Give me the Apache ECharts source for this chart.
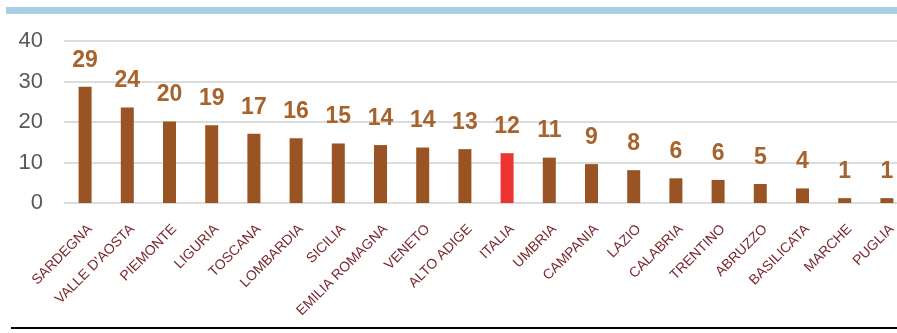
<!DOCTYPE html>
<html>
<head>
<meta charset="utf-8">
<script src="https://cdn.jsdelivr.net/npm/echarts@6/dist/echarts.min.js"></script>
<style>html,body{margin:0;padding:0;background:#fff;overflow:hidden;width:897px;height:333px;}#c{width:908px;height:333px;}</style>
</head>
<body>
<div id="c"></div>
<script>
const categories = ["SARDEGNA","VALLE D'AOSTA","PIEMONTE","LIGURIA","TOSCANA","LOMBARDIA","SICILIA","EMILIA ROMAGNA","VENETO","ALTO ADIGE","ITALIA","UMBRIA","CAMPANIA","LAZIO","CALABRIA","TRENTINO","ABRUZZO","BASILICATA","MARCHE","PUGLIA"];
const values = [28.7,23.6,20.1,19.2,17.1,16.0,14.7,14.3,13.7,13.3,12.3,11.2,9.6,8.1,6.1,5.7,4.7,3.6,1.2,1.2];
const labels = ["29","24","20","19","17","16","15","14","14","13","12","11","9","8","6","6","5","4","1","1"];
const highlight = "ITALIA";
const yTicks = [0,10,20,30,40];

const chart = echarts.init(document.getElementById('c'), null, {renderer:'canvas'});
chart.setOption({
  animation:false,
  backgroundColor:'#fff',
  grid:{left:64, top:41, right:0, height:162, containLabel:false},
  graphic:[
    {type:'rect', shape:{x:6,y:7,width:902,height:7}, style:{fill:'#a8d0e3'}},
    {type:'rect', shape:{x:11,y:327,width:897,height:2}, style:{fill:'#000'}}
  ],
  xAxis:{
    type:'category', data:categories,
    axisLine:{show:false}, axisTick:{show:false},
    axisLabel:{interval:0, rotate:45, margin:19, verticalAlign:'top', align:'right',
      color:'#7a2a2e', fontSize:14, fontFamily:'Liberation Sans'}
  },
  yAxis:{
    type:'value', min:yTicks[0], max:yTicks[yTicks.length-1], interval:10,
    axisLine:{show:false}, axisTick:{show:false},
    splitLine:{lineStyle:{color:'#dcdcdc', width:2}},
    axisLabel:{margin:21, color:'#595959', fontSize:22, fontFamily:'Liberation Sans'}
  },
  series:[{
    type:'bar', barWidth:13,
    data: values.map((v,i)=>({value:v, itemStyle:{color: categories[i]===highlight ? '#ee3333' : '#9a5424'}})),
    label:{show:true, position:'top', distance:15,
      formatter:p=>labels[p.dataIndex],
      color:'#a8622b', fontSize:23, fontWeight:'bold', fontFamily:'Liberation Sans'}
  }]
});
</script>
</body>
</html>
